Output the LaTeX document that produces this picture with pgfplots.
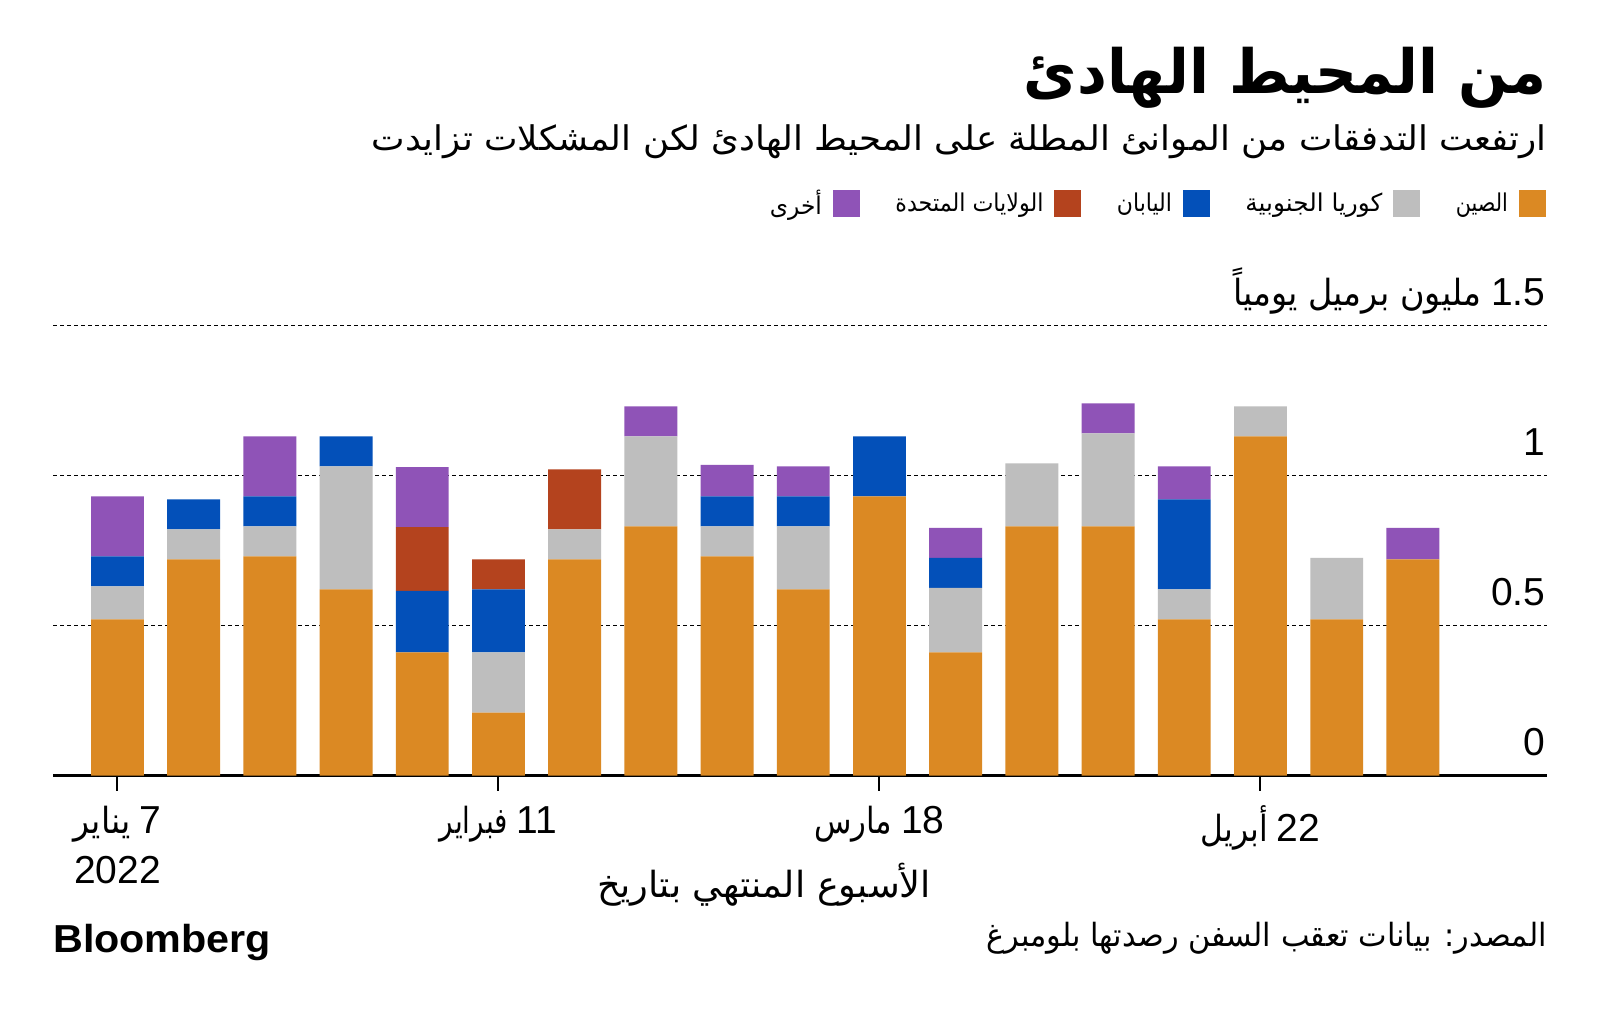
\documentclass[border=0pt]{standalone}
\usepackage{fontspec}
\usepackage{graphicx}
\usepackage{pgfplots}
\usepackage{pgfplotstable}
\pgfplotsset{compat=1.18}
\TeXXeTstate=1
\setmainfont{Liberation Sans}
\newfontfamily\ar[Script=Arabic]{DejaVu Sans}
\definecolor{cChina}{HTML}{DB8923}
\definecolor{cKorea}{HTML}{BEBEBE}
\definecolor{cJapan}{HTML}{0350B9}
\definecolor{cUS}{HTML}{B4431E}
\definecolor{cOther}{HTML}{8F53B7}
\newcommand\arw[3]{\resizebox{#1}{\height}{\fontsize{#2}{#2}\selectfont\ar\beginR #3\endR}}
\newcommand\dig{\fontsize{39}{50}\selectfont}

\pgfplotstableread{
x china korea japan us other
0 0.52 0.11 0.10 0 0.20
1 0.72 0.10 0.10 0 0
2 0.73 0.10 0.10 0 0.20
3 0.62 0.41 0.10 0 0
4 0.41 0 0.205 0.213 0.20
5 0.21 0.20 0.21 0.10 0
6 0.72 0.10 0 0.20 0
7 0.83 0.30 0 0 0.10
8 0.73 0.10 0.10 0 0.105
9 0.62 0.21 0.10 0 0.10
10 0.93 0 0.20 0 0
11 0.41 0.215 0.10 0 0.10
12 0.83 0.21 0 0 0
13 0.83 0.31 0 0 0.10
14 0.52 0.10 0.30 0 0.11
15 1.13 0.10 0 0 0
16 0.52 0.205 0 0 0
17 0.72 0 0 0 0.105
}\datatable

\begin{document}
\begin{tikzpicture}[x=1pt,y=1pt]
\fill[white] (0,0) rectangle (1600,1020);
\path[use as bounding box] (0,0) rectangle (1600,1020);
\begin{axis}[
  at={(53pt,244.5pt)}, anchor=south west,
  scale only axis, width=1494pt, height=450pt,
  xmin=-0.846, xmax=18.76, ymin=0, ymax=1.5,
  ybar stacked, bar width=0.694,
  axis x line=bottom, axis y line=right,
  axis line style={-},
  x axis line style={line width=3pt, black},
  y axis line style={draw=none},
  xtick={0,5,10,15},
  xticklabels={{\arw{57pt}{36pt}{\beginR يناير\endR}\hspace{9pt}7\\2022},
               {\arw{68pt}{36pt}{\beginR فبراير\endR}\hspace{9pt}11},
               {\arw{78pt}{36pt}{\beginR مارس\endR}\hspace{9pt}18},
               {\arw{67pt}{36pt}{\beginR أبريل\endR}\hspace{9pt}22}},
  xtick style={line width=2pt, black},
  major tick length=15pt, tick align=outside,
  xticklabel style={font=\dig, align=center, anchor=north, inner sep=0pt, yshift=-15pt},
  ytick={0,0.5,1,1.5},
  yticklabels={0,0.5,1,{\arw{248pt}{36pt}{\beginR مليون برميل يومياً\endR}\hspace{10pt}1.5}},
  ytick style={draw=none},
  yticklabel style={font=\dig, anchor=base east, inner sep=0pt, xshift=-16.5pt, yshift=20pt},
  ymajorgrids,
  major grid style={line width=1.7pt, black, dash pattern=on 3.5pt off 3.5pt},
  xmajorgrids=false,
  xlabel={\arw{334pt}{36pt}{\beginR الأسبوع المنتهي بتاريخ\endR}},
  xlabel style={at={(axis description cs:0.4759,-0.2700)}, anchor=base, inner sep=0pt},
  legend columns=5, reverse legend, legend plot pos=right,
  legend style={draw=none, fill=none, inner sep=0pt, outer sep=0pt,
    nodes={inner sep=0pt},
    at={(rel axis cs:0.9993,1.272)}, anchor=east,
    /tikz/every odd column/.append style={column sep=11pt},
    /tikz/every even column/.append style={column sep=35.5pt}},
  sq/.style={draw=none, legend image code/.code={\fill[##1] (0pt,-13.5pt) rectangle (27pt,13.5pt);}},
]
\addplot[sq, fill=cChina] table[x=x,y=china]{\datatable};
\addlegendentry{\arw{52pt}{24.5pt}{\beginR الصين\endR}}
\addplot[sq, fill=cKorea] table[x=x,y=korea]{\datatable};
\addlegendentry{\arw{137pt}{24.5pt}{\beginR كوريا الجنوبية\endR}}
\addplot[sq, fill=cJapan] table[x=x,y=japan]{\datatable};
\addlegendentry{\arw{55pt}{24.5pt}{\beginR اليابان\endR}}
\addplot[sq, fill=cUS] table[x=x,y=us]{\datatable};
\addlegendentry{\arw{148pt}{24.5pt}{\beginR الولايات المتحدة\endR}}
\addplot[sq, fill=cOther] table[x=x,y=other]{\datatable};
\addlegendentry{\arw{52pt}{24.5pt}{\beginR أخرى\endR}}
\end{axis}
\node[anchor=base east, inner sep=0pt] at (1547,926) {\arw{523pt}{61pt}{\bfseries\beginR من المحيط الهادئ\endR}};
\node[anchor=base east, inner sep=0pt] at (1547,869) {\arw{1175pt}{34pt}{\beginR ارتفعت التدفقات من الموانئ المطلة على المحيط الهادئ لكن المشكلات تزايدت\endR}};
\node[anchor=base west, inner sep=0pt] at (53,68) {\resizebox{218pt}{\height}{\fontsize{39}{39}\selectfont\bfseries Bloomberg}};
\node[anchor=base east, inner sep=0pt] at (1547,74) {\arw{560pt}{32pt}{\beginR المصدر: بيانات تعقب السفن رصدتها بلومبرغ\endR}};
\end{tikzpicture}
\end{document}
